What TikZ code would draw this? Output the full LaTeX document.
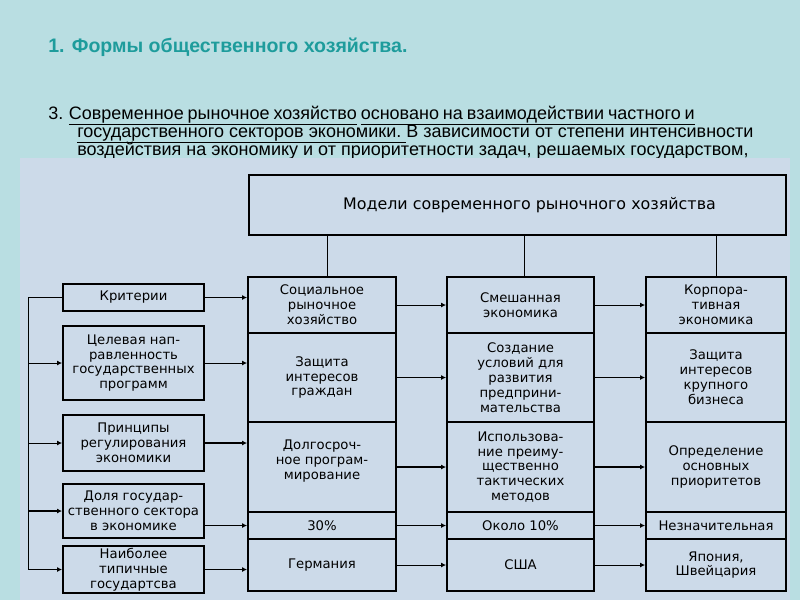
\documentclass[tikz,border=0pt]{standalone}
\usepackage{fontspec}
\setmainfont{Liberation Sans}
\newfontfamily\schemefont{DejaVu Sans}
\usetikzlibrary{arrows.meta,positioning}
\definecolor{slidebg}{HTML}{B9DEE2}
\definecolor{panelbg}{HTML}{CCDAE9}
\definecolor{titleteal}{HTML}{1E9C9C}

\begin{document}
\begin{tikzpicture}[
    x=0.025cm, y=-0.025cm,
    cell/.style={rectangle, draw, line width=1.3pt, fill=panelbg, align=center, inner sep=1pt, font=\schemefont\fontsize{9.4}{10.6}\selectfont},
    crit/.style={cell, minimum width=3.525cm},
    col1/.style={cell, minimum width=3.7cm},
    col2/.style={cell, minimum width=3.675cm},
    col3/.style={cell, minimum width=3.5cm},
    textline/.style={anchor=base west, inner sep=0, font=\fontsize{12.8}{14}\selectfont},
    arrow/.style={-{Latex[length=3.5pt,width=3.5pt]}, line width=0.7pt},
    link/.style={line width=0.7pt}
]
\fill[slidebg] (0,0) rectangle (800,600);
\useasboundingbox (0,0) rectangle (800,600);

% Заголовок и текст слайда
\node[anchor=base west, inner sep=0, font=\bfseries\fontsize{13.9}{16}\selectfont, text=titleteal] (title) at (48,52) {1. Формы общественного хозяйства.};
\node[textline] (line1) at (48,119) {\spaceskip=0.22em plus 0.1em 3. \underline{Современное рыночное хозяйство} \underline{основано на взаимодействии частного и}};
\node[textline] (line2) at (77,137) {\underline{государственного секторов экономики.\ }В зависимости от степени интенсивности};
\node[textline] (line3) at (77,155) {воздействия на экономику и от приоритетности задач, решаемых государством,};

% Панель со схемой
\fill[panelbg] (20,158) rectangle (790,600);

\node[cell, minimum width=13.425cm, minimum height=1.5cm, font=\schemefont\fontsize{11.3}{14}\selectfont] (models) at (517.5,205) {\hspace*{17pt}Модели современного рыночного хозяйства};

% Критерии (слева)
\node[crit, minimum height=0.675cm] (krit) at (133.5,297.5) {Критерии};
\node[crit, minimum height=1.85cm] (cel) at (133.5,363) {Целевая нап-\\равленность\\государственных\\программ};
\node[crit, minimum height=1.4cm] (prin) at (133.5,443) {Принципы\\регулирования\\экономики};
\node[crit, minimum height=1.35cm] (dolya) at (133.5,511) {Доля государ-\\ственного сектора\\в экономике};
\node[crit, minimum height=1.175cm] (nai) at (133.5,569.5) {Наиболее\\типичные\\государтсва};

% Социальное рыночное хозяйство
\node[col1, minimum height=1.4cm] (s1) at (322,305) {Социальное\\рыночное\\хозяйство};
\node[col1, minimum height=2.225cm] (s2) at (322,377.5) {Защита\\интересов\\граждан};
\node[col1, minimum height=2.25cm] (s3) at (322,467) {Долгосроч-\\ное програм-\\мирование\\\mbox{}};
\node[col1, minimum height=0.675cm] (s4) at (322,525.5) {30\%};
\node[col1, minimum height=1.3cm] (s5) at (322,565) {Германия};

% Смешанная экономика
\node[col2, minimum height=1.4cm] (m1) at (520.5,305) {Смешанная\\экономика};
\node[col2, minimum height=2.225cm] (m2) at (520.5,377.5) {Создание\\условий для\\развития\\предприни-\\мательства};
\node[col2, minimum height=2.25cm] (m3) at (520.5,467) {Использова-\\ние преиму-\\щественно\\тактических\\методов};
\node[col2, minimum height=0.675cm] (m4) at (520.5,525.5) {Около 10\%};
\node[col2, minimum height=1.3cm] (m5) at (520.5,565) {США};

% Корпоративная экономика
\node[col3, minimum height=1.4cm] (k1) at (716,305) {Корпора-\\тивная\\экономика};
\node[col3, minimum height=2.225cm] (k2) at (716,377.5) {Защита\\интересов\\крупного\\бизнеса};
\node[col3, minimum height=2.25cm] (k3) at (716,467) {Определение\\основных\\приоритетов};
\node[col3, minimum height=0.675cm] (k4) at (716,525.5) {Незначительная};
\node[col3, minimum height=1.3cm] (k5) at (716,565) {Япония,\\Швейцария};

% Линии от заголовка
\draw[link] ([xshift=0.125cm]models.south -| s1.north) -- ([xshift=0.125cm]s1.north);
\draw[link] ([xshift=0.11cm]models.south -| m1.north) -- ([xshift=0.11cm]m1.north);
\draw[link] (models.south -| k1.north) -- (k1.north);

% Шина слева
\coordinate (bus) at (28,297.5);
\draw[link] (krit.west) -- (bus) -- (bus |- nai.west);
\draw[arrow] (bus |- cel.west) -- (cel.west);
\draw[arrow] (bus |- prin.west) -- (prin.west);
\draw[arrow, line width=1.3pt] (bus |- dolya.west) -- (dolya.west);
\draw[arrow] (bus |- nai.west) -- (nai.west);

% Стрелки к первой колонке
\draw[arrow] (krit.east) -- (krit.east -| s1.west);
\draw[arrow] (cel.east) -- (cel.east -| s2.west);
\draw[arrow, line width=1.3pt] (prin.east) -- (prin.east -| s3.west);
\draw[arrow, line width=1.3pt] (dolya.east |- s4.west) -- (s4.west);
\draw[arrow] (nai.east) -- (nai.east -| s5.west);

% Стрелки между колонками
\draw[arrow] (s1) -- (m1);
\draw[arrow] (s2) -- (m2);
\draw[arrow, line width=1.3pt] (s3) -- (m3);
\draw[arrow, line width=1.3pt] (s4) -- (m4);
\draw[arrow] (s5) -- (m5);
\draw[arrow] (m1) -- (k1);
\draw[arrow] (m2) -- (k2);
\draw[arrow, line width=1.3pt] (m3) -- (k3);
\draw[arrow, line width=1.3pt] (m4) -- (k4);
\draw[arrow] (m5) -- (k5);

\end{tikzpicture}
\end{document}
